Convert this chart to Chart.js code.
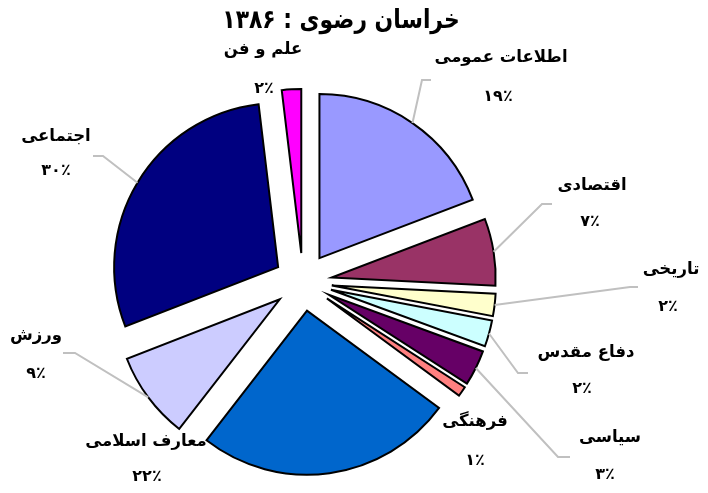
<!DOCTYPE html>
<html>
<head>
<meta charset="utf-8">
<script src="https://cdn.jsdelivr.net/npm/chart.js"></script>
<style>
  html, body { margin: 0; padding: 0; background: #fff; }
  #wrap { width: 708px; height: 493px; }
</style>
</head>
<body>
<div id="wrap"><canvas id="pieChart" width="708" height="493"></canvas></div>
<script>
const titleText = 'خراسان رضوی : ۱۳۸۶';
const categories = ['اطلاعات عمومی', 'اقتصادی', 'تاریخی', 'دفاع مقدس', 'سیاسی', 'فرهنگی', 'معارف اسلامی', 'ورزش', 'اجتماعی', 'علم و فن'];
const shares = [19.2, 6.6, 2.2, 2.6, 3.5, 1.0, 25.4, 8.6, 29.0, 1.9];
const percentLabels = ['۱۹٪', '۷٪', '۲٪', '۲٪', '۳٪', '۱٪', '۲۲٪', '۹٪', '۳۰٪', '۲٪'];
const colors = ['#9999FF', '#993366', '#FFFFCC', '#CCFFFF', '#660066', '#FF8080', '#0066CC', '#CCCCFF', '#000080', '#FF00FF'];

// where the labels sit (text centre, percent centre, elbow of the leader line)
const namePos = [[501, 58], [592, 186], [671, 270], [586, 353], [610, 438], [475, 422], [146, 442], [36, 336], [56, 137], [263, 50]];
const pctPos = [[498, 97], [590, 222], [668, 307], [582, 389], [605, 475], [475, 461], [147, 477], [36, 374], [56, 171], [264, 89]];
const elbows = [[[431, 80], [422, 80]], [[552, 204], [542, 204]], [[638, 287], [630, 287]], [[528, 373], [518, 373]], [[570, 457], [558, 457]], null, null, [[63, 353], [75, 353]], [[93, 156], [103, 156]], null];

const FONT = '"DejaVu Sans", sans-serif';

const explodedPie = {
    id: 'explodedPie',
    beforeDatasetDraw(chart, args, opts) {
        const ctx = chart.ctx;
        args.meta.data.forEach(function(arc) {
            const mid = (arc.startAngle + arc.endAngle) / 2;
            ctx.save();
            ctx.translate(Math.cos(mid) * opts.explode, Math.sin(mid) * opts.explode);
            arc.draw(ctx);
            ctx.restore();
        });
        return false;
    },
    afterDraw(chart, args, opts) {
        const ctx = chart.ctx;
        const arcs = chart.getDatasetMeta(0).data;

        // leader lines
        ctx.save();
        ctx.strokeStyle = '#c0c0c0';
        ctx.lineWidth = 2;
        arcs.forEach(function(arc, i) {
            if (!elbows[i]) return;
            const mid = (arc.startAngle + arc.endAngle) / 2;
            const r = arc.outerRadius + opts.explode;
            ctx.beginPath();
            ctx.moveTo(elbows[i][0][0], elbows[i][0][1]);
            ctx.lineTo(elbows[i][1][0], elbows[i][1][1]);
            ctx.lineTo(arc.x + Math.cos(mid) * r, arc.y + Math.sin(mid) * r);
            ctx.stroke();
        });
        ctx.restore();

        // labels
        ctx.save();
        ctx.fillStyle = '#000';
        ctx.textAlign = 'center';
        ctx.textBaseline = 'middle';
        ctx.direction = 'rtl';
        categories.forEach(function(name, i) {
            ctx.font = 'bold 16.5px ' + FONT;
            ctx.fillText(name, namePos[i][0], namePos[i][1]);
            ctx.font = 'bold 16px ' + FONT;
            ctx.fillText(percentLabels[i], pctPos[i][0], pctPos[i][1]);
        });
        // title, squeezed a little to get the narrower look of the original face
        ctx.translate(341, 21);
        ctx.scale(0.84, 1);
        ctx.font = 'bold 26px ' + FONT;
        ctx.fillText(titleText, 0, 0);
        ctx.restore();
    }
};

document.addEventListener('DOMContentLoaded', function() {
    const pieCtx = document.getElementById('pieChart').getContext('2d');

    new Chart(pieCtx, {
        type: 'pie',
        data: {
            labels: categories,
            datasets: [{
                data: shares,
                backgroundColor: colors,
                borderColor: '#000',
                borderWidth: 2,
                borderJoinStyle: 'miter',
                hoverOffset: 0
            }]
        },
        options: {
            responsive: false,
            animation: false,
            radius: 164,
            layout: {
                padding: { top: 71, bottom: 0, left: 0, right: 102 }
            },
            plugins: {
                legend: { display: false },
                tooltip: { enabled: false },
                explodedPie: { explode: 29 }
            }
        },
        plugins: [explodedPie]
    });
});
</script>
</body>
</html>
